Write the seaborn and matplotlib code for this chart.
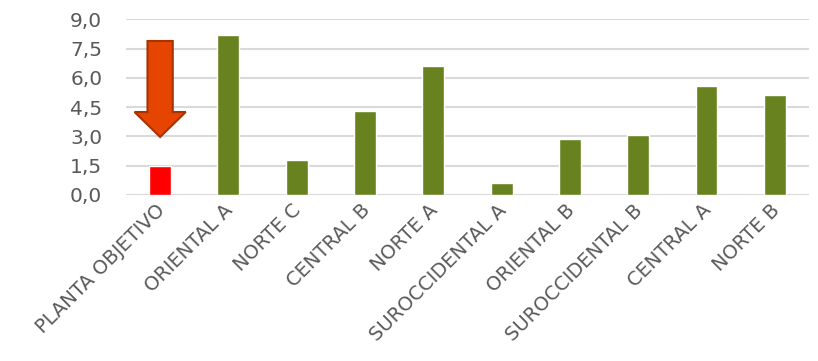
import matplotlib
matplotlib.use("Agg")
import matplotlib.pyplot as plt
import matplotlib.transforms as mtransforms
import seaborn as sns
from matplotlib.patches import FancyArrow
from matplotlib.ticker import FuncFormatter

# values
plantas = ["PLANTA OBJETIVO", "ORIENTAL A", "NORTE C", "CENTRAL B", "NORTE A",
           "SUROCCIDENTAL A", "ORIENTAL B", "SUROCCIDENTAL B", "CENTRAL A", "NORTE B"]
valores = [1.50, 8.21, 1.78, 4.29, 6.61, 0.60, 2.89, 3.07, 5.58, 5.11]
colores = ["#FF0000"] + ["#68821F"] * 9
yticks = [0, 1.5, 3.0, 4.5, 6.0, 7.5, 9.0]

sns.set_theme(style="white")
plt.rcParams["font.family"] = ["DejaVu Sans"]

fig = plt.figure(figsize=(8.18, 3.61), dpi=100)
ax = fig.add_axes([0.154, 0.46, 0.835, 0.4865])

sns.barplot(x=plantas, y=valores, hue=plantas, palette=colores, width=0.32,
            legend=False, saturation=1, ax=ax)

# down arrow over the target plant
arrow = FancyArrow(0, 7.89, 0, -4.92, width=0.37, head_width=0.75,
                   head_length=1.28, length_includes_head=True,
                   facecolor="#E54500", edgecolor="#A83300", linewidth=1.5,
                   zorder=5)
ax.add_patch(arrow)

ax.set_xlim(-0.5, 9.5)
ax.set_ylim(0, 9)
ax.set_yticks(yticks)
ax.yaxis.set_major_formatter(FuncFormatter(lambda v, p: f"{v:.1f}".replace(".", ",")))
ax.yaxis.grid(True, color="#D9D9D9", linewidth=1.5)
ax.set_axisbelow(True)
for s in ax.spines.values():
    s.set_visible(False)

ax.tick_params(axis="y", length=0, pad=17, labelsize=14.5, labelcolor="#595959")
ax.tick_params(axis="x", length=0, pad=4, labelsize=14, labelcolor="#595959")
shift = mtransforms.ScaledTranslation(-5 / 100, 0, fig.dpi_scale_trans)
for lbl in ax.get_xticklabels():
    lbl.set_rotation(45)
    lbl.set_ha("right")
    lbl.set_rotation_mode("anchor")
    lbl.set_transform(lbl.get_transform() + shift)

ax.set_xlabel("")
ax.set_ylabel("")

fig.savefig("out.png", dpi=100)
